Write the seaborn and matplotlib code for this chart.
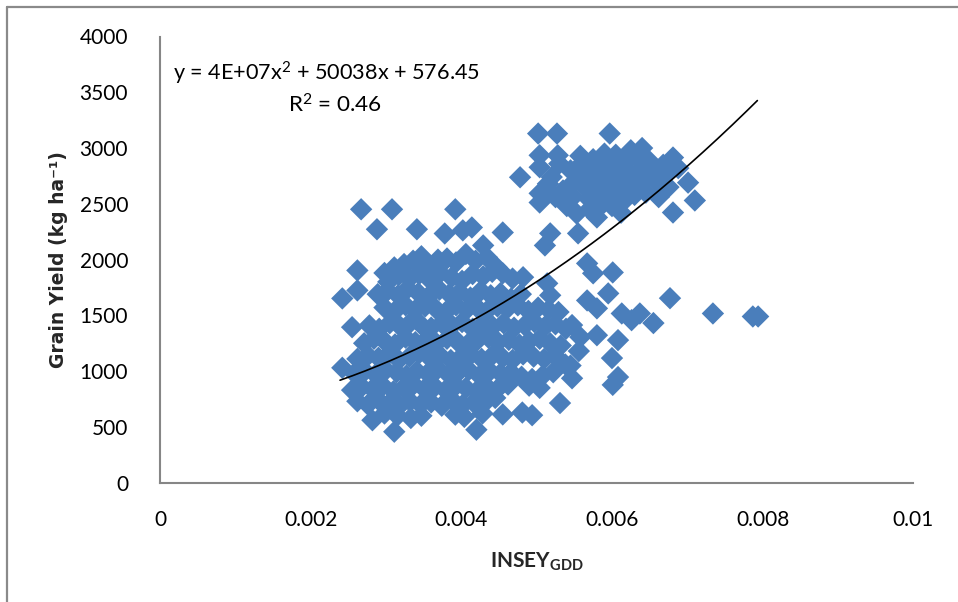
import numpy as np
import pandas as pd
import matplotlib
matplotlib.use("Agg")
import matplotlib.pyplot as plt
from matplotlib.lines import Line2D
import seaborn as sns

# ---------------- data ----------------
# upper-right cluster
insey_upper = [0.00502, 0.00527, 0.00597, 0.00478, 0.00504, 0.00504, 0.00528, 0.00504, 0.00504,
               0.00515, 0.00525, 0.00535, 0.00540, 0.00548, 0.00553, 0.00550, 0.00545, 0.00560,
               0.00565, 0.00565, 0.00570, 0.00575, 0.00580, 0.00580, 0.00580, 0.00580, 0.00585,
               0.00590, 0.00592, 0.00595, 0.00595, 0.00600, 0.00605, 0.00607, 0.00610, 0.00612,
               0.00615, 0.00620, 0.00622, 0.00625, 0.00628, 0.00630, 0.00635, 0.00637, 0.00640,
               0.00642, 0.00645, 0.00650, 0.00655, 0.00660, 0.00662, 0.00668, 0.00672, 0.00681,
               0.00681, 0.00701, 0.00710, 0.00688, 0.00675, 0.00600, 0.00570, 0.00558, 0.00520,
               0.00530, 0.00612]
yield_upper = [3130, 3130, 3130, 2738, 2935, 2828, 2935, 2594, 2512,
               2680, 2560, 2620, 2480, 2560, 2413, 2700, 2800, 2860,
               2760, 2640, 2540, 2900, 2800, 2700, 2600, 2378, 2480,
               2950, 2860, 2760, 2660, 2560, 2940, 2820, 2720, 2620,
               2520, 2880, 2780, 2980, 2680, 2580, 2900, 2800, 3000,
               2700, 2600, 2880, 2780, 2690, 2560, 2850, 2760, 2915,
               2422, 2690, 2530, 2820, 2650, 2480, 2450, 2930, 2740,
               2860, 2420]

# lower-left cluster, read band by band
insey_lower = [
    0.00298, 0.00311, 0.00324, 0.00336, 0.00347, 0.00357, 0.00369, 0.00381, 0.00393, 0.00406, 0.00419, 0.00434, 0.00447,
    0.00303, 0.00317, 0.00331, 0.00344, 0.00358, 0.00372, 0.00387, 0.00401, 0.00415, 0.00429, 0.00441, 0.00455, 0.00468, 0.00482,
    0.00289, 0.00302, 0.00316, 0.00329, 0.00343, 0.00356, 0.00371, 0.00384, 0.00398, 0.00412, 0.00426, 0.00439, 0.00452, 0.00466, 0.00479, 0.00514, 0.00518,
    0.00298, 0.00312, 0.00326, 0.00339, 0.00352, 0.00366, 0.00379, 0.00393, 0.00407, 0.00421, 0.00434, 0.00448, 0.00461, 0.00475, 0.00489, 0.00502, 0.00516, 0.00529,
    0.00278, 0.00291, 0.00305, 0.00319, 0.00333, 0.00346, 0.00360, 0.00374, 0.00388, 0.00401, 0.00415, 0.00428, 0.00442, 0.00456, 0.00470, 0.00484, 0.00497, 0.00511, 0.00525, 0.00539,
    0.00271, 0.00284, 0.00298, 0.00312, 0.00326, 0.00339, 0.00353, 0.00367, 0.00381, 0.00394, 0.00408, 0.00422, 0.00436, 0.00449, 0.00463, 0.00477, 0.00490, 0.00504, 0.00518, 0.00532,
    0.00262, 0.00276, 0.00290, 0.00303, 0.00317, 0.00331, 0.00344, 0.00358, 0.00372, 0.00386, 0.00400, 0.00413, 0.00427, 0.00441, 0.00455, 0.00468, 0.00482, 0.00496, 0.00510, 0.00524, 0.00538,
    0.00258, 0.00272, 0.00286, 0.00300, 0.00314, 0.00327, 0.00341, 0.00355, 0.00369, 0.00383, 0.00396, 0.00410, 0.00424, 0.00438, 0.00452, 0.00466, 0.00480, 0.00494, 0.00508, 0.00522,
    0.00255, 0.00268, 0.00282, 0.00296, 0.00310, 0.00323, 0.00337, 0.00351, 0.00365, 0.00379, 0.00393, 0.00406, 0.00420, 0.00434, 0.00448, 0.00462, 0.00490, 0.00504,
    0.00262, 0.00276, 0.00290, 0.00304, 0.00318, 0.00332, 0.00346, 0.00360, 0.00374, 0.00388, 0.00402, 0.00416, 0.00430, 0.00445,
    0.00282, 0.00298, 0.00315, 0.00333, 0.00347, 0.00392, 0.00404, 0.00428, 0.00455,
]
yield_lower = [
    1880, 1930, 1960, 1990, 2030, 1950, 2000, 2010, 1975, 2050, 1990, 2020, 1930,
    1800, 1860, 1830, 1870, 1820, 1880, 1840, 1810, 1870, 1850, 1890, 1877, 1830, 1842,
    1690, 1720, 1680, 1740, 1700, 1670, 1730, 1690, 1710, 1660, 1720, 1680, 1700, 1650, 1690, 1787, 1680,
    1570, 1540, 1590, 1550, 1580, 1560, 1530, 1590, 1550, 1570, 1540, 1580, 1560, 1590, 1540, 1570, 1550, 1530,
    1410, 1380, 1430, 1400, 1440, 1420, 1390, 1430, 1410, 1440, 1380, 1420, 1400, 1430, 1390, 1410, 1440, 1400, 1420, 1380,
    1250, 1290, 1270, 1240, 1300, 1260, 1280, 1250, 1290, 1270, 1240, 1280, 1300, 1260, 1280, 1240, 1270, 1290, 1250, 1230,
    1110, 1140, 1120, 1150, 1100, 1130, 1160, 1120, 1140, 1100, 1130, 1150, 1110, 1140, 1120, 1100, 1150, 1130, 1110, 1140, 1060,
    980, 1000, 970, 1010, 990, 960, 1000, 980, 1020, 970, 990, 1010, 960, 1000, 980, 990, 950, 930, 960, 990,
    830, 860, 840, 870, 820, 850, 880, 840, 860, 830, 870, 850, 820, 860, 840, 880, 870, 850,
    730, 700, 740, 710, 690, 730, 700, 720, 690, 740, 700, 720, 710, 760,
    560, 620, 600, 580, 600, 610, 590, 620, 612,
]

# scattered points
insey_scatter = [0.00311, 0.00420, 0.00481, 0.00494, 0.00531, 0.00547, 0.00608, 0.00601, 0.00600,
                 0.00608, 0.00558, 0.00580, 0.00547, 0.00613, 0.00637, 0.00626, 0.00655, 0.00567,
                 0.00580, 0.00595, 0.00677, 0.00734, 0.00787, 0.00794, 0.00242, 0.00242, 0.00255,
                 0.00262, 0.00262, 0.00267, 0.00308, 0.00392, 0.00288, 0.00341, 0.00378, 0.00402,
                 0.00414, 0.00455, 0.00429, 0.00518, 0.00511, 0.00555, 0.00567, 0.00601, 0.00575,
                 0.00545, 0.00556]
yield_scatter = [457, 475, 629, 605, 714, 936, 947, 877, 1117,
                 1278, 1305, 1322, 1413, 1517, 1517, 1457, 1431, 1634,
                 1563, 1697, 1654, 1517, 1490, 1490, 1652, 1030, 1394,
                 1903, 1724, 2451, 2451, 2451, 2272, 2272, 2234, 2262,
                 2288, 2243, 2127, 2235, 2127, 2235, 1966, 1885, 1877,
                 1050, 1180]

trend_a, trend_b, trend_c = 3.9e7, 50038, 576.45
trend_x_min, trend_x_max = 0.00239, 0.00793

x_ticks = [0, 0.002, 0.004, 0.006, 0.008, 0.01]
x_tick_labels = ["0", "0.002", "0.004", "0.006", "0.008", "0.01"]
y_ticks = [0, 500, 1000, 1500, 2000, 2500, 3000, 3500, 4000]
y_tick_labels = ["0", "500", "1000", "1500", "2000", "2500", "3000", "3500", "4000"]

# ---------------- style ----------------
sns.set_style("white")
plt.rcParams["font.family"] = ["Lato", "DejaVu Sans"]
plt.rcParams["mathtext.fontset"] = "custom"
plt.rcParams["mathtext.rm"] = "Lato"
plt.rcParams["mathtext.bf"] = "Lato:bold"
plt.rcParams["mathtext.it"] = "Lato"

df = pd.DataFrame({
    "INSEY": insey_upper + insey_lower + insey_scatter,
    "Yield": yield_upper + yield_lower + yield_scatter,
})

W, H = 958, 602
fig = plt.figure(figsize=(W / 100, H / 100), dpi=100)
ax = fig.add_axes([160 / W, 1 - 482.7 / H, (913.3 - 160) / W, (482.7 - 36.5) / H])

sns.scatterplot(data=df, x="INSEY", y="Yield", marker="D", s=130, color="#4A7EBB",
                edgecolor="none", linewidth=0, ax=ax, zorder=2, legend=False)

tx = np.linspace(trend_x_min, trend_x_max, 200)
ty = trend_a * tx ** 2 + trend_b * tx + trend_c
sns.lineplot(x=tx, y=ty, color="black", linewidth=1.2, ax=ax, zorder=3, sort=False)

ax.set_xlim(0, 0.01)
ax.set_ylim(0, 4000)
ax.set_xticks(x_ticks)
ax.set_xticklabels(x_tick_labels)
ax.set_yticks(y_ticks)
ax.set_yticklabels(y_tick_labels)
ax.set_xlabel("")
ax.set_ylabel("")

axis_gray = "#868686"
for side in ["top", "right"]:
    ax.spines[side].set_visible(False)
for side in ["left", "bottom"]:
    ax.spines[side].set_color(axis_gray)
    ax.spines[side].set_linewidth(1.5)
ax.tick_params(axis="both", direction="out", length=4, width=1.3, color=axis_gray,
               labelsize=15, labelcolor="black")
ax.tick_params(axis="y", pad=19)
ax.tick_params(axis="x", pad=16)
ax.grid(False)

# trendline equation
fig.text(173 / W, 1 - 73 / H, r"y = 4E+07x$^{2}$ + 50038x + 576.45", fontsize=15.6,
         ha="left", va="center", color="black")
fig.text(288 / W, 1 - 105 / H, r"R$^{2}$ = 0.46", fontsize=16.2, ha="left", va="center",
         color="black")

# axis titles
fig.text(59 / W, 1 - 260 / H, "Grain Yield (kg ha⁻¹)", rotation=90, ha="center", va="center",
         fontsize=13.5, fontweight="bold", family=["DejaVu Sans"])
fig.text(537 / W, 1 - 562 / H, r"INSEY$_{\mathbf{GDD}}$", ha="center", va="center",
         fontsize=15, fontweight="bold")

# outer chart frame (left and top visible)
fig.add_artist(Line2D([7 / W, 7 / W], [0, 1 - 7 / H], transform=fig.transFigure,
                      color="#8a8a8a", linewidth=1.6))
fig.add_artist(Line2D([7 / W, 1], [1 - 7 / H, 1 - 7 / H], transform=fig.transFigure,
                      color="#8a8a8a", linewidth=1.6))

fig.savefig("out.png", dpi=100)
